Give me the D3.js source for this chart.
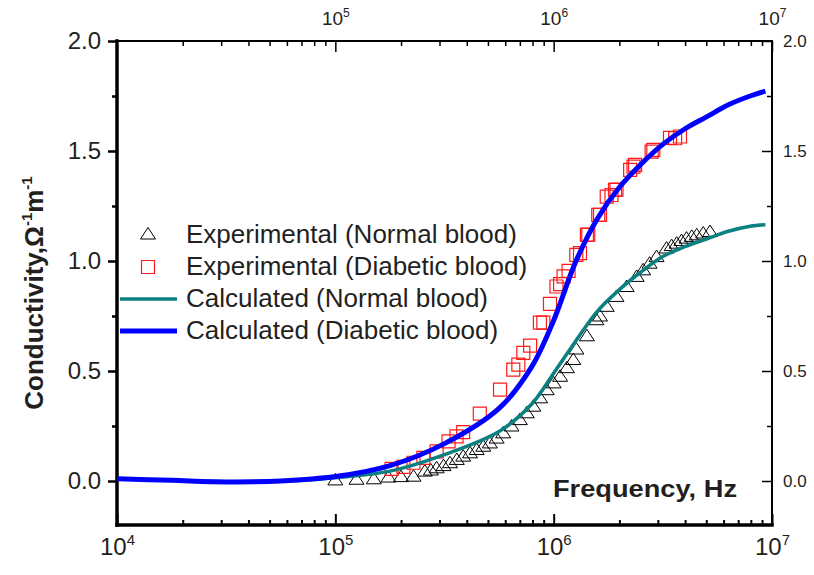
<!DOCTYPE html>
<html lang="en">
<head>
  <meta charset="UTF-8">
  <title>Conductivity vs frequency</title>
  <script src="https://d3js.org/d3.v7.min.js"></script>
  <style>
    body { margin: 0; background: #fff; }
    svg text { font-family: "Liberation Sans", Arial, sans-serif; fill: #231f20; }
  </style>
</head>
<body>
  <svg id="chart" width="814" height="575"></svg>

  <script>
    // —— data read off the figure ——
    // calculated curves (Hz, S/m)
    const calcFreq = [1e4, 1.78e4, 3.16e4, 5.62e4, 1e5, 1.78e5, 3.16e5, 5.62e5, 7.94e5, 1e6,
                      1.26e6, 1.58e6, 2.0e6, 2.51e6, 3.16e6, 3.98e6, 5.01e6, 6.31e6, 7.94e6, 9.33e6];
    const calcNormal   = [0.01, 0.003, -0.003, 0.0, 0.015, 0.045, 0.12, 0.225, 0.35, 0.49,
                          0.635, 0.77, 0.87, 0.95, 1.02, 1.065, 1.10, 1.135, 1.158, 1.165];
    const calcDiabetic = [0.01, 0.003, -0.004, 0.0, 0.02, 0.07, 0.17, 0.33, 0.52, 0.73,
                          0.995, 1.19, 1.335, 1.44, 1.53, 1.60, 1.655, 1.71, 1.75, 1.772];

    // experimental, normal blood (triangles)
    const normFreq = [1.0e5, 1.25e5, 1.5e5, 1.75e5, 2.0e5, 2.28e5, 2.57e5, 2.74e5, 2.91e5, 3.13e5,
                      3.35e5, 3.6e5, 3.85e5, 4.14e5, 4.44e5, 4.76e5, 5.1e5, 5.48e5, 5.87e5, 6.41e5,
                      7.0e5, 7.53e5, 8.07e5, 8.67e5, 9.29e5, 1.0e6, 1.07e6, 1.15e6, 1.23e6, 1.27e6,
                      1.42e6, 1.57e6, 1.63e6, 1.75e6, 1.94e6, 2.16e6, 2.40e6, 2.57e6, 2.75e6, 2.96e6,
                      3.29e6, 3.47e6, 3.66e6, 3.85e6, 4.06e6, 4.29e6, 4.52e6, 4.84e6, 5.2e6];
    const normSigma = [0.005, 0.008, 0.01, 0.018, 0.02, 0.022, 0.045, 0.05, 0.06, 0.07,
                       0.083, 0.098, 0.113, 0.128, 0.143, 0.158, 0.173, 0.195, 0.219, 0.25,
                       0.279, 0.31, 0.34, 0.378, 0.415, 0.446, 0.476, 0.515, 0.552, 0.6,
                       0.66, 0.733, 0.75, 0.794, 0.839, 0.884, 0.93, 0.96, 0.99, 1.02,
                       1.059, 1.07, 1.081, 1.093, 1.104, 1.112, 1.119, 1.127, 1.134];

    // experimental, diabetic blood (squares)
    const diabFreq = [1.81e5, 2.05e5, 2.28e5, 2.53e5, 2.91e5, 3.30e5, 3.59e5, 3.85e5, 4.59e5, 5.68e5,
                      6.53e5, 6.89e5, 7.26e5, 7.80e5, 8.65e5, 8.97e5, 9.62e5, 1.03e6, 1.07e6, 1.11e6,
                      1.17e6, 1.27e6, 1.32e6, 1.42e6, 1.44e6, 1.60e6, 1.63e6, 1.75e6, 1.84e6, 1.91e6,
                      1.94e6, 2.24e6, 2.32e6, 2.36e6, 2.81e6, 2.86e6, 3.41e6, 3.60e6, 3.79e6];
    const diabSigma = [0.055, 0.064, 0.083, 0.105, 0.135, 0.18, 0.203, 0.222, 0.306, 0.415,
                       0.506, 0.529, 0.582, 0.615, 0.72, 0.72, 0.805, 0.884, 0.895, 0.93,
                       0.955, 1.028, 1.036, 1.119, 1.12, 1.21, 1.21, 1.293, 1.30, 1.323,
                       1.324, 1.414, 1.429, 1.437, 1.497, 1.505, 1.56, 1.558, 1.566];

    const xDecades = [1e4, 1e5, 1e6, 1e7];
    const xTopLabels = [1e5, 1e6, 1e7];
    const yMajor = [0, 0.5, 1.0, 1.5, 2.0];
    const yMinor = [0.25, 0.75, 1.25, 1.75];
    const legendLabels = ["Experimental (Normal blood)", "Experimental (Diabetic blood)",
                          "Calculated (Normal blood)", "Calculated (Diabetic blood)"];

    // —— layout ——
    const L = 117, R = 772, T = 41, B = 525;
    const svg = d3.select("#chart");

    const x = d3.scaleLog().domain([1e4, 1e7]).range([L, R]);
    const y = d3.scaleLinear().domain([-0.2, 2.0]).range([B, T]);

    const xMinor = x.ticks().filter(d => !xDecades.includes(d));

    // superscript "10^n" labels
    function powLabel(sel, big, small, rise) {
      sel.each(function(d) {
        const t = d3.select(this).text("");
        t.append("tspan").attr("font-size", big).text("10");
        t.append("tspan").attr("font-size", small).attr("dy", -rise)
          .text(Math.round(Math.log10(d)));
      });
    }

    // bottom axis: ticks inward, labels below
    const gB = svg.append("g").attr("transform", `translate(0,${B})`);
    gB.append("g").call(d3.axisBottom(x).tickValues(xMinor).tickSizeInner(-5).tickSizeOuter(0).tickFormat(""));
    gB.append("g").call(d3.axisBottom(x).tickValues(xDecades).tickSizeInner(-11).tickSizeOuter(0).tickPadding(23))
      .call(g => g.selectAll(".tick text").call(powLabel, 24, 15, 10));

    // top axis: ticks inward, labels above
    const gT = svg.append("g").attr("transform", `translate(0,${T})`);
    gT.append("g").call(d3.axisTop(x).tickValues(xMinor).tickSizeInner(-5).tickSizeOuter(0).tickFormat(""));
    gT.append("g").call(d3.axisTop(x).tickValues(xTopLabels).tickSizeInner(-11).tickSizeOuter(0).tickPadding(16))
      .call(g => g.selectAll(".tick text").call(powLabel, 19, 12, 8));

    // left axis: ticks outward
    const gL = svg.append("g").attr("transform", `translate(${L},0)`);
    gL.append("g").call(d3.axisLeft(y).tickValues(yMinor).tickSize(5).tickFormat(""));
    gL.append("g").call(d3.axisLeft(y).tickValues(yMajor).tickSize(9).tickPadding(7).tickFormat(d3.format(".1f")))
      .call(g => g.selectAll(".tick text").attr("font-size", 24));
    gL.selectAll(".tick line").attr("stroke-width", 2.5);

    // right axis: ticks pointing into the plot, labels outside
    const gR = svg.append("g").attr("transform", `translate(${R},0)`);
    gR.append("g").call(d3.axisRight(y).tickValues(yMinor).tickSizeInner(-5).tickSizeOuter(0).tickFormat(""));
    gR.append("g").call(d3.axisRight(y).tickValues(yMajor).tickSizeInner(-10).tickSizeOuter(0).tickPadding(11).tickFormat(d3.format(".1f")))
      .call(g => g.selectAll(".tick text").attr("font-size", 17));

    svg.selectAll(".domain").remove();
    svg.selectAll(".tick text").attr("font-family", null).attr("fill", "#231f20");
    gB.selectAll(".tick line").attr("stroke-width", 2);
    gT.selectAll(".tick line").attr("stroke-width", 1.5);
    gR.selectAll(".tick line").attr("stroke-width", 1.5);

    // frame
    const frame = svg.append("g").attr("stroke", "#000").attr("stroke-linecap", "square");
    frame.append("line").attr("x1", L).attr("x2", R).attr("y1", T).attr("y2", T).attr("stroke-width", 2);
    frame.append("line").attr("x1", R).attr("x2", R).attr("y1", T).attr("y2", B).attr("stroke-width", 2);
    frame.append("line").attr("x1", L).attr("x2", L).attr("y1", T).attr("y2", B).attr("stroke-width", 3.5);
    frame.append("line").attr("x1", L).attr("x2", R).attr("y1", B).attr("y2", B).attr("stroke-width", 3.5);

    // markers
    const triPath = "M0,-6.5L7.5,5L-7.5,5Z";
    const sqPath = d3.symbol(d3.symbolSquare, 169)();

    svg.append("g").selectAll("path")
      .data(normFreq.map((f, i) => [f, normSigma[i]]))
      .join("path")
      .attr("d", triPath)
      .attr("transform", d => `translate(${x(d[0])},${y(d[1])})`)
      .attr("fill", "none").attr("stroke", "#000").attr("stroke-width", 1);

    svg.append("g").selectAll("path")
      .data(diabFreq.map((f, i) => [f, diabSigma[i]]))
      .join("path")
      .attr("d", sqPath)
      .attr("transform", d => `translate(${x(d[0])},${y(d[1])})`)
      .attr("fill", "none").attr("stroke", "#ff1a1a").attr("stroke-width", 1.2);

    // calculated curves
    const line = d3.line().x(d => x(d[0])).y(d => y(d[1])).curve(d3.curveCatmullRom.alpha(0.5));
    svg.append("path")
      .attr("d", line(calcFreq.map((f, i) => [f, calcNormal[i]])))
      .attr("fill", "none").attr("stroke", "#0b8080").attr("stroke-width", 3.5);
    svg.append("path")
      .attr("d", line(calcFreq.map((f, i) => [f, calcDiabetic[i]])))
      .attr("fill", "none").attr("stroke", "#0000ff").attr("stroke-width", 5);

    // legend
    const leg = svg.append("g");
    const rowY = [243, 275, 307, 339];
    leg.selectAll("text").data(legendLabels).join("text")
      .attr("x", 186).attr("y", (d, i) => rowY[i])
      .attr("font-size", 26).text(d => d);
    leg.append("path").attr("d", triPath).attr("transform", `translate(148,${rowY[0] - 9})`)
      .attr("fill", "none").attr("stroke", "#000").attr("stroke-width", 1);
    leg.append("path").attr("d", sqPath).attr("transform", `translate(148,${rowY[1] - 8})`)
      .attr("fill", "none").attr("stroke", "#ff1a1a").attr("stroke-width", 1.2);
    leg.append("line").attr("x1", 120).attr("x2", 177).attr("y1", rowY[2] - 8).attr("y2", rowY[2] - 8)
      .attr("stroke", "#0b8080").attr("stroke-width", 3.5);
    leg.append("line").attr("x1", 120).attr("x2", 177).attr("y1", rowY[3] - 8).attr("y2", rowY[3] - 8)
      .attr("stroke", "#0000ff").attr("stroke-width", 5);

    // axis titles
    svg.append("text").attr("x", 553).attr("y", 497)
      .attr("font-size", 24).attr("font-weight", "bold")
      .attr("textLength", 184).attr("lengthAdjust", "spacingAndGlyphs")
      .text("Frequency, Hz");

    const yt = svg.append("text")
      .attr("transform", "translate(43,293) rotate(-90)")
      .attr("text-anchor", "middle").attr("font-size", 26).attr("font-weight", "bold");
    yt.append("tspan").text("Conductivity,Ω");
    yt.append("tspan").attr("font-size", 15).attr("dy", -11).text("-1");
    yt.append("tspan").attr("dy", 11).text("m");
    yt.append("tspan").attr("font-size", 15).attr("dy", -11).text("-1");
  </script>
</body>
</html>
